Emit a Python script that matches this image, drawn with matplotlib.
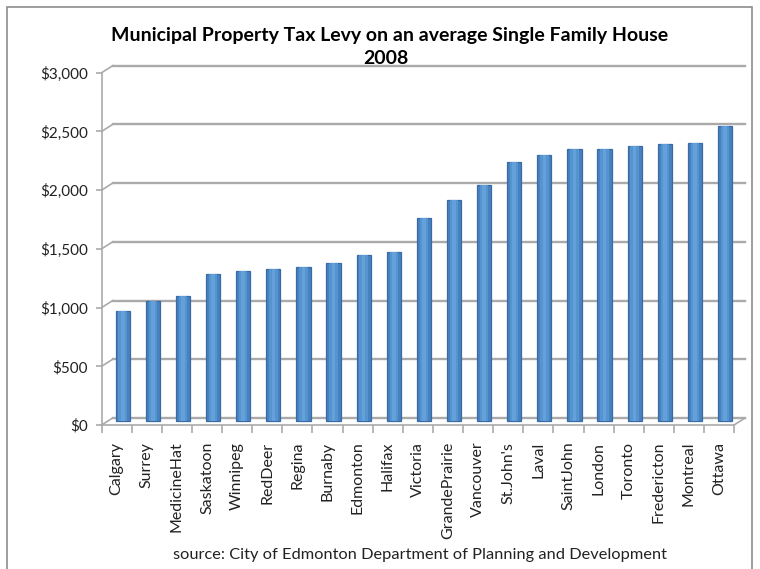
import matplotlib
matplotlib.use("Agg")
import matplotlib.pyplot as plt
import matplotlib.transforms as mtransforms
from matplotlib.patches import Rectangle
from matplotlib.ticker import FuncFormatter

plt.rcParams['font.family'] = ['Lato', 'DejaVu Sans']

cities = ['Calgary', 'Surrey', 'MedicineHat', 'Saskatoon', 'Winnipeg', 'RedDeer',
          'Regina', 'Burnaby', 'Edmonton', 'Halifax', 'Victoria', 'GrandePrairie',
          'Vancouver', "St.John's", 'Laval', 'SaintJohn', 'London', 'Toronto',
          'Fredericton', 'Montreal', 'Ottawa']
tax_levy = [942, 1025, 1070, 1258, 1282, 1302, 1318, 1352, 1417, 1440, 1730,
            1886, 2013, 2212, 2268, 2316, 2320, 2347, 2359, 2370, 2520]
yticks = [0, 500, 1000, 1500, 2000, 2500, 3000]

title = 'Municipal Property Tax Levy on an average Single Family House'
year = '2008'
source = 'source: City of Edmonton Department of Planning and Development'

fig = plt.figure(figsize=(7.6, 5.69), dpi=100)
ax = fig.add_axes([0.1338, 0.2531, 0.8321, 0.6192])
n = len(cities)
xs = list(range(n))
ax.set_xlim(-0.5, n - 0.5)
ax.set_ylim(0, 3000)

# fake 3D: back wall and bars are shifted a few pixels up/right
back = mtransforms.offset_copy(ax.transData, fig=fig, x=11, y=7, units='dots')
mid = mtransforms.offset_copy(ax.transData, fig=fig, x=6, y=3.5, units='dots')

grid_c = '#aaaaaa'
x0, x1 = -0.5, n - 0.5
for v in yticks:
    ax.plot([x0, x1], [v, v], color=grid_c, lw=1.7, transform=back, clip_on=False, zorder=1)
    # little slant from the front axis to the back wall
    p0 = ax.transData.transform((x0, v))
    p1 = back.transform((x0, v))
    ax.plot([p0[0], p1[0]], [p0[1], p1[1]], color=grid_c, lw=1.2,
            transform=None, clip_on=False, zorder=1)

# floor front edge and right slant
ax.plot([x0, x1], [0, 0], color=grid_c, lw=1.2, clip_on=False, zorder=1)
q0 = ax.transData.transform((x1, 0))
q1 = back.transform((x1, 0))
ax.plot([q0[0], q1[0]], [q0[1], q1[1]], color=grid_c, lw=1.2, transform=None, clip_on=False)
# left value axis
ax.plot([x0, x0], [0, 3000], color=grid_c, lw=1.2, clip_on=False, zorder=1)

# cylinder-ish bars
w = 0.47
ax.bar(xs, tax_levy, width=w, color='#4682c0', edgecolor='#3a6aa3', linewidth=0.9,
       transform=mid, zorder=3)
ax.bar(xs, tax_levy, width=w * 0.6, color='#5a98d4', linewidth=0,
       transform=mid, zorder=4, alpha=0.85)
ax.bar(xs, tax_levy, width=w * 0.25, color='#6aa6de', linewidth=0,
       transform=mid, zorder=5, alpha=0.7)

for s in ax.spines.values():
    s.set_visible(False)

ax.set_yticks(yticks)
ax.yaxis.set_major_formatter(FuncFormatter(lambda v, p: '${:,.0f}'.format(v)))
ax.tick_params(axis='y', length=4, width=1.2, color=grid_c, labelsize=11, pad=6,
               labelcolor='#222222')

ax.set_xticks(xs)
ax.set_xticklabels(cities, rotation=90, fontsize=11.5, color='#222222')
ax.tick_params(axis='x', length=0, pad=12)
ax.set_xticks([i - 0.5 for i in range(n + 1)], minor=True)
ax.tick_params(axis='x', which='minor', length=6, width=1.2, color=grid_c)

fig.text(390 / 760, 1 - 35 / 569, title, ha='center', va='center', fontsize=14, fontweight='bold')
fig.text(386 / 760, 1 - 58 / 569, year, ha='center', va='center', fontsize=14, fontweight='bold')
fig.text(420 / 760, 1 - 555 / 569, source, ha='center', va='center', fontsize=11.8,
         color='#222222')

fig.add_artist(Rectangle((7 / 760, -0.02), 745 / 760, 1.02 - 7 / 569,
                         transform=fig.transFigure, fill=False, edgecolor='#8c8c8c', lw=1.2))

fig.savefig('out.png', dpi=100)
